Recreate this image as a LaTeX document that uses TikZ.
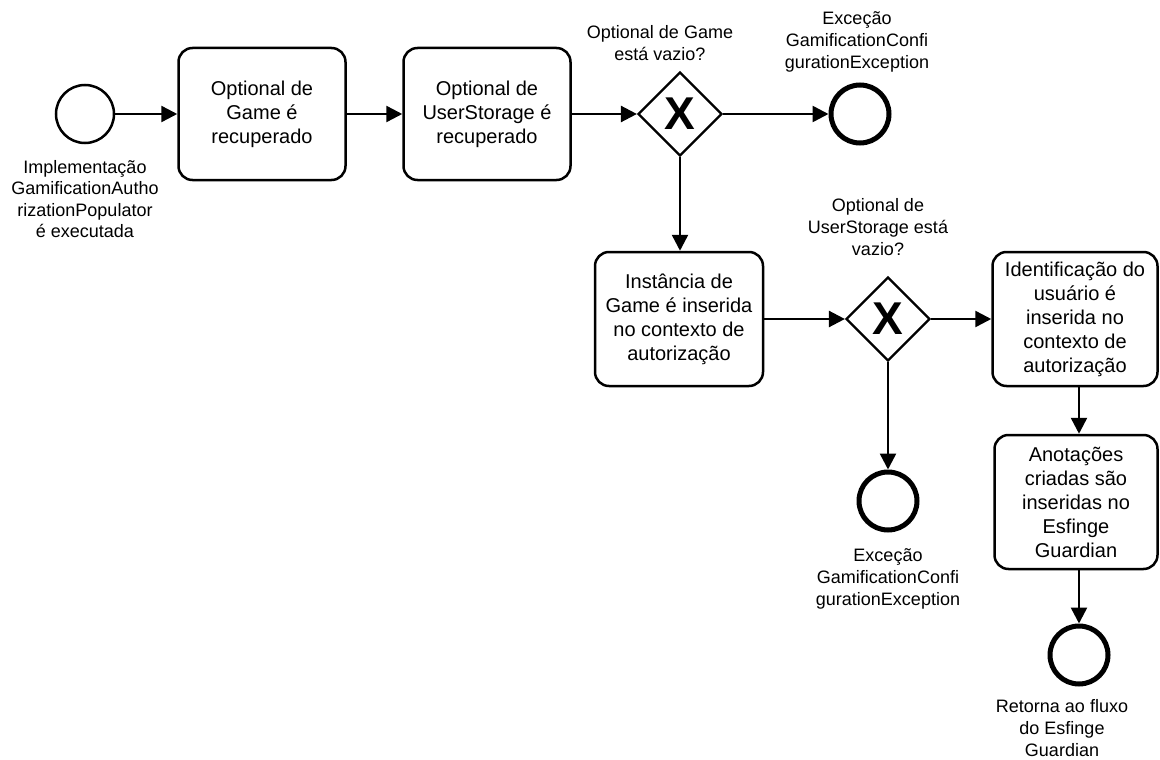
\documentclass[tikz,border=0pt]{standalone}
\usepackage{fontspec}
\setmainfont{Liberation Sans}
\usetikzlibrary{shapes.geometric,arrows.meta}
\begin{document}
\begin{tikzpicture}[x=1pt,y=-1pt,
  every node/.style={font=\fontsize{18}{21.6}\selectfont, align=center},
  task/.style={draw, line width=2.5pt, rounded corners=14pt, inner sep=0pt,
    font=\fontsize{20}{24}\selectfont},
  gateway/.style={draw, diamond, line width=2.2pt, inner sep=0pt,
    minimum width=84pt, minimum height=84pt,
    font=\fontsize{46}{46}\selectfont\bfseries},
  startev/.style={draw, circle, line width=2.5pt, minimum size=58pt, inner sep=0pt},
  endev/.style={draw, circle, line width=5pt, minimum size=58pt, inner sep=0pt},
  lbl/.style={inner sep=0pt},
  flow/.style={line width=2.5pt, -{Triangle[length=16pt,width=16pt]}}
]
\useasboundingbox (0,0) rectangle (1160,760);

% start event
\node[startev] (start) at (85,114) {};
\node[lbl] (startlbl) at (85,199) {Implementação\\GamificationAutho\\rizationPopulator\\é executada};

% first row of tasks
\node[task, minimum width=167pt, minimum height=132pt] (t1) at (262,114) {Optional de\\Game é\\recuperado};
\node[task, minimum width=167pt, minimum height=132pt] (t2) at (487,114) {Optional de\\UserStorage é\\recuperado};

% first gateway and exception end
\node[gateway] (g1) at (680,114) {X};
\node[lbl] (g1lbl) at (660,43) {Optional de Game\\está vazio?};
\node[endev] (end1) at (860,114) {};
\node[lbl] (end1lbl) at (857,42) {Exceção\\GamificationConfi\\gurationException};

% second row
\node[task, minimum width=168pt, minimum height=134pt] (t3) at (679,319) {Instância de\\Game é inserida\\no contexto de\\autorização};
\node[gateway] (g2) at (888,319) {X};
\node[lbl] (g2lbl) at (878,227) {Optional de\\UserStorage está\\vazio?};
\node[task, minimum width=165pt, minimum height=134pt] (t4) at (1075,319) {Identificação do\\usuário é\\inserida no\\contexto de\\autorização};

% second exception end
\node[endev] (end2) at (888,501) {};
\node[lbl] (end2lbl) at (888,579) {Exceção\\GamificationConfi\\gurationException};

% final steps
\node[task, minimum width=163pt, minimum height=134pt] (t5) at (1076,502) {Anotações\\criadas são\\inseridas no\\Esfinge\\Guardian};
\node[endev] (end3) at (1079,655) {};
\node[lbl] (end3lbl) at (1062,728) {Retorna ao fluxo\\do Esfinge\\Guardian};

% sequence flows
\draw[flow] (start) -- (t1);
\draw[flow] (t1) -- (t2);
\draw[flow] (t2) -- (g1);
\draw[flow] (g1) -- (end1);
\draw[flow] (g1.south) -- (g1.south |- t3.north);
\draw[flow] (t3) -- (g2);
\draw[flow] (g2) -- (t4);
\draw[flow] (g2.south) -- (end2);
\draw[flow] (t4.south -| end3) -- (t5.north -| end3);
\draw[flow] (t5.south -| end3) -- (end3);
\end{tikzpicture}
\end{document}
